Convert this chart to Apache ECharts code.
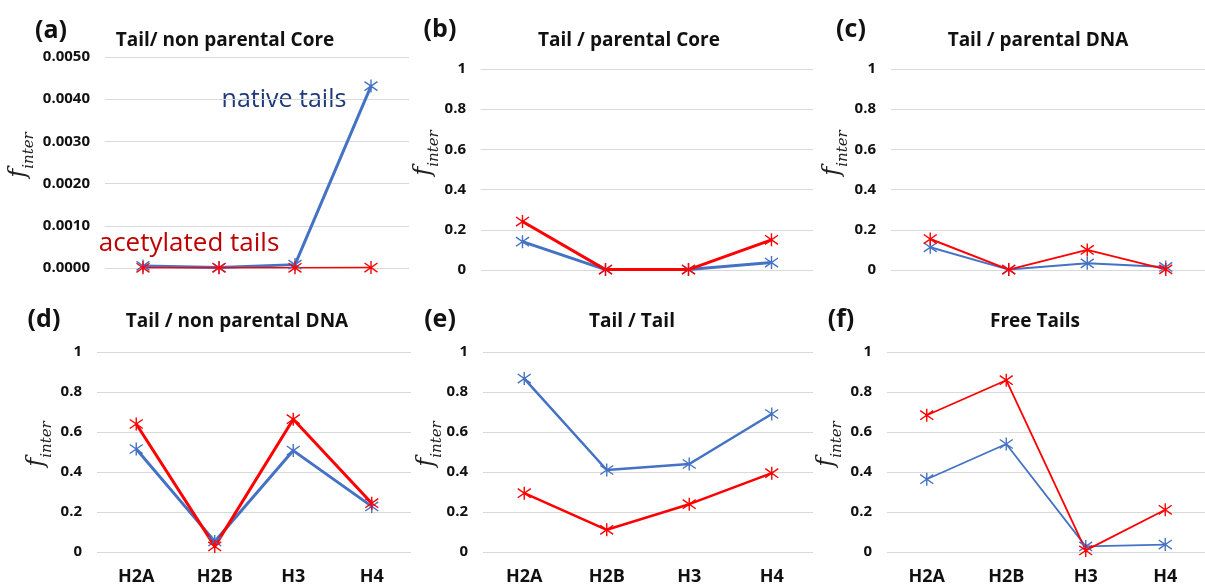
<!DOCTYPE html>
<html>
<head>
<meta charset="utf-8">
<script src="https://cdn.jsdelivr.net/npm/echarts@6/dist/echarts.min.js"></script>
<style>
html,body{margin:0;padding:0;background:#fff;}
#chart{width:1205px;height:587px;}
</style>
</head>
<body>
<div id="chart"></div>
<script>
// ---- data ----
const categories = ['H2A', 'H2B', 'H3', 'H4'];
const panelTitles = ['Tail/ non parental Core', 'Tail / parental Core', 'Tail / parental DNA',
                     'Tail / non parental DNA', 'Tail / Tail', 'Free Tails'];
const panelTags = ['(a)', '(b)', '(c)', '(d)', '(e)', '(f)'];
const seriesNames = ['native tails', 'acetylated tails'];

const a_native = [0.00005, 0.00001, 0.00008, 0.00431];
const a_acetyl = [0.000005, 0.000005, 0.000005, 0.00001];
const b_native = [0.141, 0.002, 0.002, 0.037];
const b_acetyl = [0.241, 0.002, 0.002, 0.150];
const c_native = [0.113, 0.002, 0.033, 0.015];
const c_acetyl = [0.154, 0.002, 0.100, 0.003];
const d_native = [0.515, 0.053, 0.507, 0.228];
const d_acetyl = [0.640, 0.028, 0.664, 0.244];
const e_native = [0.867, 0.410, 0.440, 0.690];
const e_acetyl = [0.294, 0.111, 0.239, 0.394];
const f_native = [0.364, 0.540, 0.028, 0.037];
const f_acetyl = [0.684, 0.859, 0.008, 0.211];

const a_ticks = { min: 0, max: 0.005, interval: 0.001 };
const frac_ticks = { min: 0, max: 1, interval: 0.2 };

// ---- styling / layout ----
const BLUE = '#4472C4';
const RED = '#FF0000';
const FONT = '"Open Sans", Lato, sans-serif';
const STAR = 'path://M1.5,1.5L8.5,8.5M8.5,1.5L1.5,8.5M5,0L5,10';

const panels = [
  { grid: { left: 105, top: 57, width: 304, height: 211 }, nat: a_native, ace: a_acetyl, ticks: a_ticks, fmt: v => v.toFixed(4), lw: [3, 1.5], xlab: false,
    title: [225, 41], tag: [51, 31], yname: [22, 155] },
  { grid: { left: 481, top: 69, width: 332, height: 201 }, nat: b_native, ace: b_acetyl, ticks: frac_ticks, fmt: null, lw: [3, 3], xlab: false,
    title: [629, 41], tag: [440, 30], yname: [427, 153] },
  { grid: { left: 891, top: 69, width: 328, height: 201 }, nat: c_native, ace: c_acetyl, ticks: frac_ticks, fmt: null, lw: [2, 2], xlab: false,
    title: [1038, 41], tag: [851, 30], yname: [836, 153] },
  { grid: { left: 97, top: 352, width: 314, height: 200 }, nat: d_native, ace: d_acetyl, ticks: frac_ticks, fmt: null, lw: [3, 3], xlab: true,
    title: [237, 322], tag: [44, 320], yname: [40, 444] },
  { grid: { left: 483, top: 352, width: 330, height: 200 }, nat: e_native, ace: e_acetyl, ticks: frac_ticks, fmt: null, lw: [2.5, 2.5], xlab: true,
    title: [632, 322], tag: [440, 320], yname: [430, 444] },
  { grid: { left: 887, top: 352, width: 330, height: 200 }, nat: f_native, ace: f_acetyl, ticks: frac_ticks, fmt: null, lw: [1.8, 1.8], xlab: true,
    title: [1035, 322], tag: [841, 320], yname: [830, 444] }
];

const fracFmt = v => (Math.abs(v) < 1e-9 ? '0' : Math.abs(v - 1) < 1e-9 ? '1' : v.toFixed(1));

const grids = [], xAxes = [], yAxes = [], series = [], graphics = [];
panels.forEach((p, i) => {
  grids.push(Object.assign({ containLabel: false }, p.grid));
  xAxes.push({
    type: 'category', gridIndex: i, data: categories, boundaryGap: true,
    axisLine: { show: false }, axisTick: { show: false },
    axisLabel: { show: p.xlab, fontFamily: FONT, fontWeight: 'bold', fontSize: 18, color: '#111', margin: 16 }
  });
  yAxes.push({
    type: 'value', gridIndex: i, min: p.ticks.min, max: p.ticks.max, interval: p.ticks.interval,
    axisLine: { show: false }, axisTick: { show: false },
    splitLine: { show: true, lineStyle: { color: '#D9D9D9', width: 1 } },
    axisLabel: { fontFamily: FONT, fontWeight: 'bold', fontSize: 15, color: '#111', margin: 15,
                 formatter: p.fmt || fracFmt }
  });
  [[p.nat, BLUE, p.lw[0], seriesNames[0]], [p.ace, RED, p.lw[1], seriesNames[1]]].forEach(([d, col, lw, nm]) => {
    series.push({
      type: 'line', name: nm, xAxisIndex: i, yAxisIndex: i, data: d,
      symbol: STAR, symbolSize: 13, showAllSymbol: true,
      lineStyle: { color: col, width: lw },
      itemStyle: { color: 'rgba(0,0,0,0)', borderColor: col, borderWidth: 1.4 },
      emphasis: { disabled: true }, animation: false
    });
  });
  graphics.push({
    type: 'text', x: p.title[0], y: p.title[1],
    style: { text: panelTitles[i], font: 'bold 19px ' + FONT, fill: '#111', align: 'center', verticalAlign: 'middle' }
  });
  graphics.push({
    type: 'text', x: p.tag[0], y: p.tag[1],
    style: { text: panelTags[i], font: 'bold 25px ' + FONT, fill: '#111', align: 'center', verticalAlign: 'middle' }
  });
  graphics.push({
    type: 'text', x: p.yname[0], y: p.yname[1], rotation: Math.PI / 2,
    style: {
      text: '{f|f}{s|inter}', align: 'center', verticalAlign: 'middle',
      rich: {
        f: { fontFamily: '"DejaVu Serif", serif', fontStyle: 'italic', fontSize: 24, fill: '#222', lineHeight: 30, verticalAlign: 'top' },
        s: { fontFamily: '"DejaVu Serif", serif', fontStyle: 'italic', fontSize: 15, fill: '#222', lineHeight: 30, verticalAlign: 'bottom' }
      }
    }
  });
});

graphics.push({
  type: 'text', x: 284, y: 100,
  style: { text: 'native tails', font: '25px ' + FONT, fill: '#1F3A78', align: 'center', verticalAlign: 'middle' }
});
graphics.push({
  type: 'text', x: 189, y: 244,
  style: { text: 'acetylated tails', font: '26px ' + FONT, fill: '#C00000', align: 'center', verticalAlign: 'middle' }
});

const chart = echarts.init(document.getElementById('chart'), null, { renderer: 'canvas' });
chart.setOption({
  backgroundColor: '#fff',
  animation: false,
  grid: grids, xAxis: xAxes, yAxis: yAxes, series: series,
  graphic: graphics
});
</script>
</body>
</html>
